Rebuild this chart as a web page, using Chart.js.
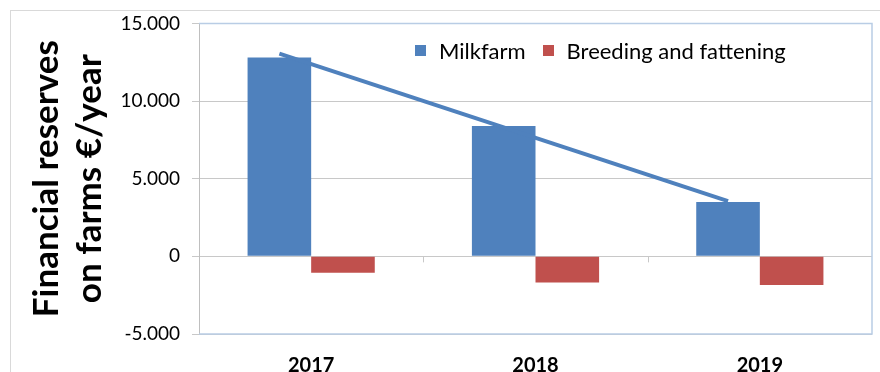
<!DOCTYPE html>
<html>
<head>
<meta charset="utf-8">
<script src="https://cdn.jsdelivr.net/npm/chart.js@4.4.1/dist/chart.umd.min.js"></script>
<style>
  body { margin: 0; background: #fff; }
  #wrap { position: relative; width: 880px; height: 372px; }
  #frame { position: absolute; left: 10px; top: 10px; right: 0; bottom: 0;
           border-top: 1px solid #d9d9d9; border-left: 1px solid #d9d9d9; }
  #legend { position: absolute; left: 415px; top: 37px; display: flex; align-items: center;
            font-family: Lato, sans-serif; font-size: 22px; color: #000; }
  #legend .item { display: flex; align-items: center; margin-right: 17px; }
  #legend .box { width: 11px; height: 11px; margin-right: 13px; }
</style>
</head>
<body>
<div id="wrap">
  <div id="frame"></div>
  <canvas id="chart"></canvas>
  <div id="legend"></div>
</div>
<script>
const years = ['2017', '2018', '2019'];
const milkfarm = [12800, 8400, 3500];
const breeding = [-1050, -1680, -1850];
const milkTrend = [13050, 8300, 3550];
const yTicks = [-5000, 0, 5000, 10000, 15000];
const yTitle = ['Financial reserves', 'on farms €/year'];

const blue = '#4f81bd';
const red = '#c0504d';
const gridGrey = '#c8c8c8';

// trend line through the Milkfarm bar centres + plot border + small ticks on the 0 line
const extras = {
  id: 'extras',
  afterDatasetsDraw(chart) {
    const ctx = chart.ctx;
    const y = chart.scales.y;
    const x = chart.scales.x;
    const bars = chart.getDatasetMeta(0).data;
    const area = chart.chartArea;

    ctx.save();
    // tick marks below the zero line between categories
    ctx.strokeStyle = gridGrey;
    ctx.lineWidth = 1;
    const y0 = y.getPixelForValue(0);
    for (let i = 0; i < years.length - 1; i++) {
      const bx = Math.round((x.getPixelForValue(i) + x.getPixelForValue(i + 1)) / 2) + 0.5;
      ctx.beginPath();
      ctx.moveTo(bx, y0);
      ctx.lineTo(bx, y0 + 6);
      ctx.stroke();
    }

    // trend line
    ctx.strokeStyle = blue;
    ctx.lineWidth = 4;
    ctx.beginPath();
    milkTrend.forEach((v, i) => {
      const px = bars[i].x;
      const py = y.getPixelForValue(v);
      if (i === 0) ctx.moveTo(px, py); else ctx.lineTo(px, py);
    });
    ctx.stroke();

    // plot area border (top, right, bottom)
    ctx.strokeStyle = '#b9cde5';
    ctx.lineWidth = 1.5;
    ctx.beginPath();
    ctx.moveTo(area.left, area.top);
    ctx.lineTo(area.right, area.top);
    ctx.lineTo(area.right, area.bottom);
    ctx.lineTo(area.left, area.bottom);
    ctx.stroke();
    ctx.restore();
  }
};

const chart = new Chart(document.getElementById('chart'), {
  type: 'bar',
  data: {
    labels: years,
    datasets: [
      { label: 'Milkfarm', data: milkfarm, backgroundColor: blue },
      { label: 'Breeding and fattening', data: breeding, backgroundColor: red }
    ]
  },
  options: {
    responsive: true,
    maintainAspectRatio: false,
    animation: false,
    categoryPercentage: 0.567,
    barPercentage: 1.0,
    layout: { padding: { top: 22, right: 8, left: 0, bottom: 0 } },
    plugins: {
      legend: { display: false },
      tooltip: { enabled: false }
    },
    scales: {
      x: {
        grid: { display: false },
        border: { display: false },
        ticks: {
          color: '#000',
          padding: 12,
          font: { family: 'Lato', size: 20, weight: 'bold' }
        },
        afterFit(scale) { scale.height = 38; }
      },
      y: {
        min: -5000,
        max: 15000,
        afterBuildTicks(scale) { scale.ticks = yTicks.map(v => ({ value: v })); },
        grid: { color: gridGrey, tickLength: 7 },
        border: { color: '#bfbfbf' },
        ticks: {
          color: '#000',
          padding: 12,
          font: { family: 'Lato', size: 19 },
          callback: v => v.toLocaleString('de-DE')
        },
        title: {
          display: true,
          text: yTitle,
          color: '#000',
          padding: { top: 25, bottom: 0 },
          font: { family: 'Lato', size: 35, weight: 'bold', lineHeight: 1.23 }
        },
        afterFit(scale) { scale.width = 199; }
      }
    }
  },
  plugins: [extras]
});

// legend built from the datasets
const legend = document.getElementById('legend');
chart.data.datasets.forEach(ds => {
  const item = document.createElement('div');
  item.className = 'item';
  const box = document.createElement('span');
  box.className = 'box';
  box.style.background = ds.backgroundColor;
  const txt = document.createElement('span');
  txt.textContent = ds.label;
  item.appendChild(box);
  item.appendChild(txt);
  legend.appendChild(item);
});
</script>
</body>
</html>
